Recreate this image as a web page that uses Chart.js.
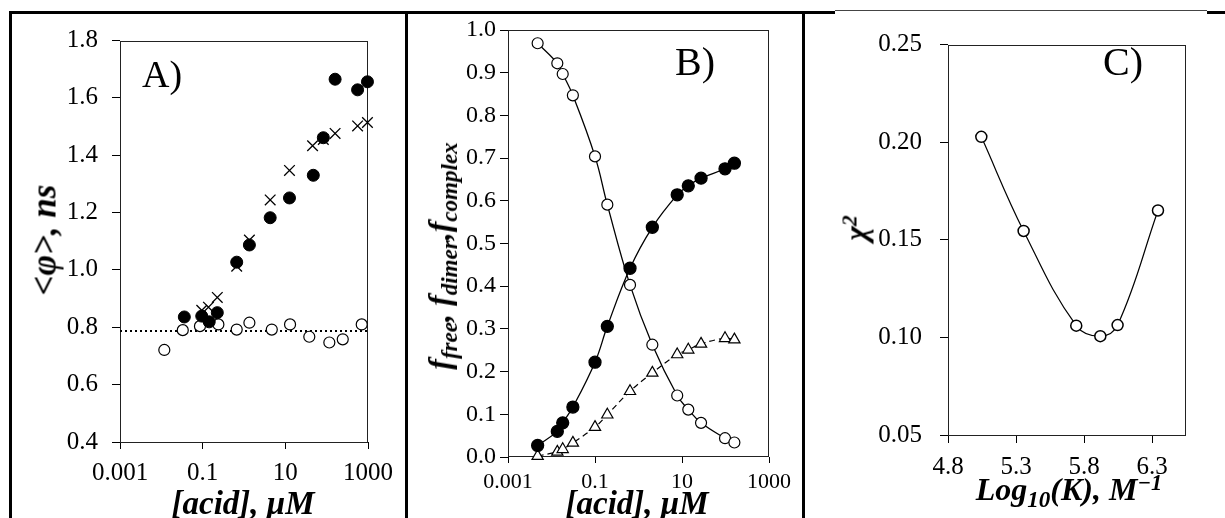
<!DOCTYPE html>
<html>
<head>
<meta charset="utf-8">
<script src="https://cdn.jsdelivr.net/npm/chart.js@4.4.1/dist/chart.umd.min.js"></script>
<style>
body { margin: 0; background: #fff; }
#wrap { position: relative; width: 1225px; height: 518px; overflow: hidden; background: #fff;
        font-family: "Liberation Serif", "Times New Roman", serif; }
canvas { position: absolute; }
.ln { position: absolute; background: #000; }
.t { position: absolute; white-space: nowrap; color: #000; line-height: 1; }
.bi { font-weight: bold; font-style: italic; }
.rot { transform: translate(-50%, -50%) rotate(-90deg); }
.ctr { transform: translateX(-50%); }
sub { font-size: 0.72em; vertical-align: -0.3em; line-height: 0; }
sup { font-size: 0.7em; vertical-align: 0.45em; line-height: 0; }
</style>
</head>
<body>
<div id="wrap">
    <!-- panel borders -->
    <div class="ln" style="left:9px;top:11px;width:826px;height:3px"></div>
    <div class="ln" style="left:835px;top:10px;width:372px;height:1px;background:#444"></div>
    <div class="ln" style="left:1207px;top:11px;width:18px;height:3px"></div>
    <div class="ln" style="left:9px;top:11px;width:3px;height:507px"></div>
    <div class="ln" style="left:405px;top:11px;width:3px;height:507px"></div>
    <div class="ln" style="left:802px;top:11px;width:3px;height:507px"></div>

    <canvas id="chartA" width="393" height="504" style="left:12px;top:14px"></canvas>
    <canvas id="chartB" width="392" height="504" style="left:409px;top:14px"></canvas>
    <canvas id="chartC" width="419" height="504" style="left:806px;top:14px"></canvas>

    <!-- axis titles and panel letters -->
    <div class="t bi rot" style="left:44px;top:240px;font-size:35px">&lt;φ&gt;, ns</div>
    <div class="t bi ctr" style="left:243px;top:487px;font-size:33px">[acid], μM</div>
    <div class="t" style="left:142px;top:55px;font-size:38px">A)</div>

    <div class="t bi rot" style="left:439px;top:256px;font-size:32px">f<sub>free</sub>, f<sub>dimer</sub>,f<sub>complex</sub></div>
    <div class="t bi ctr" style="left:637px;top:487px;font-size:33px">[acid], μM</div>
    <div class="t" style="left:675px;top:42px;font-size:40px">B)</div>

    <div class="t bi rot" style="left:856px;top:228px;font-size:31px">χ<sup>2</sup></div>
    <div class="t bi ctr" style="left:1069px;top:473px;font-size:32px">Log<sub>10</sub>(K), M<sup>−1</sup></div>
    <div class="t" style="left:1103px;top:42px;font-size:40px">C)</div>
</div>

<script>
const FONT = '"Liberation Serif", "Times New Roman", serif';

// A) <phi> vs [acid]
const aXTicks = [0.001, 0.1, 10, 1000];
const aYTicks = [0.4, 0.6, 0.8, 1.0, 1.2, 1.4, 1.6, 1.8];
const aFilledX = [0.036, 0.095, 0.144, 0.226, 0.666, 1.35, 4.3, 12.6, 47.5, 83, 160, 560, 970];
const aFilledY = [0.836, 0.839, 0.819, 0.851, 1.027, 1.087, 1.182, 1.251, 1.330, 1.461, 1.665, 1.628, 1.656];
const aCrossX = [0.095, 0.138, 0.226, 0.666, 1.35, 4.3, 12.6, 45.6, 83, 160, 560, 970];
const aCrossY = [0.859, 0.870, 0.904, 1.013, 1.104, 1.244, 1.347, 1.433, 1.455, 1.476, 1.502, 1.514];
const aOpenX = [0.0118, 0.033, 0.086, 0.24, 0.666, 1.35, 4.7, 13, 38, 116, 245, 705];
const aOpenY = [0.721, 0.790, 0.804, 0.810, 0.792, 0.816, 0.792, 0.810, 0.767, 0.747, 0.758, 0.810];
const aBaseline = 0.787;

// B) fractions vs [acid]
const bXTicks = [0.001, 0.1, 10, 1000];
const bYTicks = [0, 0.1, 0.2, 0.3, 0.4, 0.5, 0.6, 0.7, 0.8, 0.9, 1.0];
const bX = [0.0048, 0.0136, 0.0181, 0.031, 0.1, 0.192, 0.638, 2.08, 7.76, 13.95, 27.4, 97.5, 160];
const bFree = [0.969, 0.922, 0.897, 0.847, 0.704, 0.591, 0.403, 0.263, 0.144, 0.111, 0.080, 0.044, 0.034];
const bComplex = [0.027, 0.060, 0.080, 0.117, 0.222, 0.306, 0.442, 0.538, 0.614, 0.635, 0.653, 0.675, 0.688];
const bDimer = [0.002, 0.012, 0.018, 0.033, 0.070, 0.099, 0.154, 0.197, 0.240, 0.251, 0.265, 0.278, 0.275];

// C) chi^2 vs log K
const cXTicks = [4.8, 5.3, 5.8, 6.3];
const cYTicks = [0.05, 0.10, 0.15, 0.20, 0.25];
const cX = [5.045, 5.356, 5.743, 5.92, 6.047, 6.344];
const cY = [0.2027, 0.1545, 0.106, 0.1006, 0.1063, 0.165];

Chart.defaults.font.family = FONT;
Chart.defaults.color = '#000';

const pts = (xs, ys) => xs.map((x, i) => ({x: x, y: ys[i]}));

function axis(o) {
    return {
        type: o.type, min: o.min, max: o.max,
        border: {display: false},
        grid: {display: true, drawOnChartArea: false, drawTicks: true, tickLength: o.tick, color: '#000', lineWidth: 1},
        ticks: {
            color: '#000', padding: o.pad, maxRotation: 0, autoSkip: false,
            font: {family: FONT, size: o.size, lineHeight: 1},
            callback: (v, i) => o.fmt(o.values[i])
        },
        afterBuildTicks: s => { s.ticks = o.values.map(v => ({value: v})); },
        afterFit: s => { if (o.w) s.width = o.w; if (o.h) s.height = o.h; }
    };
}

// box round the plot area
const frame = {
    id: 'frame',
    beforeDatasetsDraw(chart) {
        const a = chart.chartArea, c = chart.ctx;
        c.save();
        c.strokeStyle = '#222';
        c.lineWidth = 1;
        c.strokeRect(Math.round(a.left) + 0.5, Math.round(a.top) + 0.5,
                     Math.round(a.right - a.left) - 1, Math.round(a.bottom - a.top) - 1);
        c.restore();
    }
};

function base(pad, scales, datasets) {
    return {
        type: 'scatter',
        data: {datasets: datasets},
        options: {
            responsive: false, animation: false, devicePixelRatio: 1,
            layout: {padding: pad},
            plugins: {legend: {display: false}, tooltip: {enabled: false}},
            scales: scales
        },
        plugins: [frame]
    };
}

const fmt1 = v => v.toFixed(1);
const fmt2 = v => v.toFixed(2);
const fmtLog = v => String(v);

new Chart(document.getElementById('chartA'), base(
    {left: 0, top: 20, right: 37, bottom: 0},
    {
        x: axis({type: 'logarithmic', min: aXTicks[0], max: aXTicks[aXTicks.length - 1], values: aXTicks,
                 fmt: fmtLog, size: 25, pad: 12, tick: 7, h: 76}),
        y: axis({type: 'linear', min: aYTicks[0], max: aYTicks[aYTicks.length - 1], values: aYTicks,
                 fmt: fmt1, size: 25, pad: 14, tick: 8, w: 108})
    },
    [
        {data: pts(aFilledX, aFilledY), pointStyle: 'circle', pointRadius: 6, backgroundColor: '#000',
         borderColor: '#000', borderWidth: 1, clip: false},
        {data: pts(aCrossX, aCrossY), pointStyle: 'crossRot', pointRadius: 7.5, borderColor: '#000',
         borderWidth: 1.3, clip: false},
        {data: pts(aOpenX, aOpenY), pointStyle: 'circle', pointRadius: 5.5, backgroundColor: '#fff',
         borderColor: '#000', borderWidth: 1.2, clip: false},
        {data: [{x: aXTicks[0], y: aBaseline}, {x: aXTicks[aXTicks.length - 1], y: aBaseline}],
         showLine: true, pointRadius: 0, borderColor: '#000', borderWidth: 2, borderDash: [2, 3]}
    ]
));

new Chart(document.getElementById('chartB'), base(
    {left: 0, top: 15, right: 32, bottom: 0},
    {
        x: axis({type: 'logarithmic', min: bXTicks[0], max: bXTicks[bXTicks.length - 1], values: bXTicks,
                 fmt: fmtLog, size: 22, pad: 8, tick: 6, h: 61}),
        y: axis({type: 'linear', min: bYTicks[0], max: bYTicks[bYTicks.length - 1], values: bYTicks,
                 fmt: fmt1, size: 24, pad: 4, tick: 8, w: 99})
    },
    [
        {data: pts(bX, bComplex), showLine: true, tension: 0.4, borderColor: '#000', borderWidth: 1.3,
         pointStyle: 'circle', pointRadius: 6, pointBackgroundColor: '#000', pointBorderColor: '#000', clip: false},
        {data: pts(bX, bFree), showLine: true, tension: 0.4, borderColor: '#000', borderWidth: 1.3,
         pointStyle: 'circle', pointRadius: 5.5, pointBackgroundColor: '#fff', pointBorderColor: '#000',
         pointBorderWidth: 1.2, clip: false},
        {data: pts(bX, bDimer), showLine: true, tension: 0.4, borderColor: '#000', borderWidth: 1.2,
         borderDash: [6, 4], pointStyle: 'triangle', pointRadius: 6.5, pointBackgroundColor: '#fff',
         pointBorderColor: '#000', pointBorderWidth: 1.2, clip: false}
    ]
));

new Chart(document.getElementById('chartC'), base(
    {left: 0, top: 13, right: 39, bottom: 0},
    {
        x: axis({type: 'linear', min: cXTicks[0], max: 6.55, values: cXTicks,
                 fmt: fmt1, size: 25, pad: 12, tick: 8, h: 83}),
        y: axis({type: 'linear', min: cYTicks[0], max: cYTicks[cYTicks.length - 1], values: cYTicks,
                 fmt: fmt2, size: 25, pad: 18, tick: 8, w: 142})
    },
    [
        {data: pts(cX, cY), showLine: true, tension: 0.4, borderColor: '#000', borderWidth: 1.2,
         pointStyle: 'circle', pointRadius: 5.5, pointBackgroundColor: '#fff', pointBorderColor: '#000',
         pointBorderWidth: 1.5, clip: false}
    ]
));
</script>
</body>
</html>
